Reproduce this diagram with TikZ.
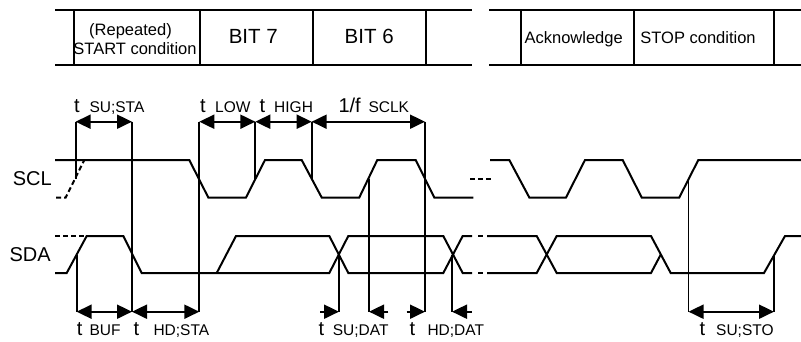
\documentclass[tikz,border=0pt]{standalone}
\usepackage{fontspec}
\setmainfont{Liberation Sans}
\usetikzlibrary{arrows.meta}
\begin{document}
\begin{tikzpicture}[x=1pt,y=-1pt,
  wave/.style={line width=2pt, line join=miter},
  vline/.style={line width=1.8pt},
  frame/.style={line width=2pt},
  dimboth/.style={line width=2pt,{Triangle[length=15pt,width=14pt]}-{Triangle[length=15pt,width=14pt]}},
  dimone/.style={line width=2pt,-{Triangle[length=15pt,width=14pt]}},
  big/.style={inner sep=0pt, anchor=base west, font=\fontsize{20}{24}\selectfont},
  subl/.style={inner sep=0pt, anchor=base west, font=\fontsize{15.5}{18}\selectfont},
  cell/.style={inner sep=0pt, anchor=base, font=\fontsize{16.5}{19}\selectfont},
  bit/.style={inner sep=0pt, anchor=base, font=\fontsize{20.5}{24}\selectfont},
]
\useasboundingbox (0,0) rectangle (801,341);

% ---------- top table ----------
\draw[frame] (55,9.5) -- (471.7,9.5) (489.3,9.5) -- (801,9.5);
\draw[frame] (55,65) -- (471.7,65) (489.3,65) -- (801,65);
\foreach \x in {74,199.5,312.7,425.7,520.7,633.7,774}
  \draw[frame] (\x,9.5) -- (\x,65);
\node[cell] (rep) at (130.5,35) {(Repeated)};
\node[cell] (start) at (135,54) {START condition};
\node[bit] (b7) at (253.3,43.3) {BIT 7};
\node[bit] (b6) at (369.2,43.3) {BIT 6};
\node[cell] (ack) at (573.7,43.3) {Acknowledge};
\node[cell] (stop) at (698,43.3) {STOP condition};

% ---------- signal names ----------
\node[big] (scl) at (12.7,185.5) {SCL};
\node[big] (sda) at (9.3,261.5) {SDA};

% ---------- SCL ----------
\draw[wave] (55,160) -- (189.3,160) -- (208.3,197.5) -- (246,197.5) -- (265,160)
  -- (301.7,160) -- (321.7,197.5) -- (359.3,197.5) -- (377.3,160) -- (415.7,160)
  -- (434.3,197.5) -- (473.3,197.5);
\draw[wave, dash pattern=on 5pt off 3pt] (56,197.5) -- (65.7,197.5) -- (84.3,160);
\draw[wave, dash pattern=on 5pt off 3pt] (470,179) -- (491.7,179);
\draw[wave] (490,160) -- (509.3,160) -- (529.3,197.5) -- (566,197.5) -- (585,160)
  -- (622.7,160) -- (641.7,197.5) -- (679.3,197.5) -- (698.3,160) -- (801,160);

% ---------- SDA ----------
\draw[wave, dash pattern=on 5pt off 3pt] (55,236) -- (86,236);
\draw[wave] (55,273) -- (66.7,273) -- (86.7,236) -- (123.3,236) -- (141.7,273)
  -- (329.3,273) -- (348.3,236) -- (443.3,236) -- (462.7,273) -- (472,273);
\draw[wave] (216.7,273) -- (236,236) -- (329.3,236) -- (348.3,273) -- (443.3,273)
  -- (462.7,236) -- (472,236);
\draw[wave] (478,236) -- (483,236) (478,273) -- (483,273);
\draw[wave] (487,236) -- (536.7,236) -- (556.7,273) -- (651,273) -- (660.8,254.5);
\draw[wave] (487,273) -- (536.7,273) -- (556.7,236) -- (651,236) -- (670.7,273)
  -- (764,273) -- (785,236) -- (801,236);

% ---------- marker coordinates ----------
\coordinate (At) at (75.6,121.7);  \coordinate (Ab) at (75.6,178.7);
\coordinate (Bt) at (132,121.7);   \coordinate (Bb) at (132,311.7);
\coordinate (Ct) at (199.3,121.7); \coordinate (Cb) at (199.3,311.7);
\coordinate (Dt) at (255.3,121.7); \coordinate (Db) at (255.3,178.7);
\coordinate (Et) at (311.7,121.7); \coordinate (Eb) at (311.7,178.7);
\coordinate (Ft) at (425,121.7);   \coordinate (Fb) at (425,311.7);
\coordinate (Gt) at (369,178.7);   \coordinate (Gb) at (369,311.7);
\coordinate (Ht) at (339,254.5);   \coordinate (Hb) at (339,311.7);
\coordinate (It) at (452,254.5);   \coordinate (Ib) at (452,311.7);
\coordinate (Jt) at (688.5,178.7); \coordinate (Jb) at (688.5,311.7);
\coordinate (Kt) at (774,254.5);   \coordinate (Kb) at (774,311.7);
\coordinate (Lt) at (76.6,254.5);  \coordinate (Lb) at (76.6,311.7);
\coordinate (hl) at (320,311.7);   \coordinate (gr) at (388.3,311.7);
\coordinate (fl) at (406.7,311.7); \coordinate (ir) at (471.7,311.7);

\foreach \m in {A,B,C,D,E,F,G,H,I,J,K,L}
  \draw[vline] (\m t) -- (\m b);

% ---------- dimension arrows ----------
\draw[dimboth] (At) -- (Bt);
\draw[dimboth] (Ct) -- (Dt);
\draw[dimboth] (Dt) -- (Et);
\draw[dimboth] (Et) -- (Ft);
\draw[dimboth] (Lb) -- (Bb);
\draw[dimboth] (Bb) -- (Cb);
\draw[dimboth] (Jb) -- (Kb);
\draw[dimone] (hl) -- (Hb);
\draw[dimone] (gr) -- (Gb);
\draw[dimone] (fl) -- (Fb);
\draw[dimone] (ir) -- (Ib);

% ---------- timing labels ----------
\node[big]  (t1) at (74,112) {t};    \node[subl] (s1) at (89.3,112) {SU;STA};
\node[big]  (t2) at (200,112) {t};   \node[subl] (s2) at (215,112) {LOW};
\node[big]  (t3) at (259.3,112) {t}; \node[subl] (s3) at (274,112) {HIGH};
\node[big]  (t4) at (338.3,112) {1/f}; \node[subl] (s4) at (368.3,112) {SCLK};
\node[big]  (t5) at (76.7,335) {t};  \node[subl] (s5) at (89.3,335) {BUF};
\node[big]  (t6) at (133.3,335) {t}; \node[subl] (s6) at (153.3,335) {HD;STA};
\node[big]  (t7) at (318.3,335) {t}; \node[subl] (s7) at (332.7,335) {SU;DAT};
\node[big]  (t8) at (409.3,335) {t}; \node[subl] (s8) at (427.3,335) {HD;DAT};
\node[big]  (t9) at (699.3,335) {t}; \node[subl] (s9) at (716,335) {SU;STO};
\end{tikzpicture}
\end{document}
